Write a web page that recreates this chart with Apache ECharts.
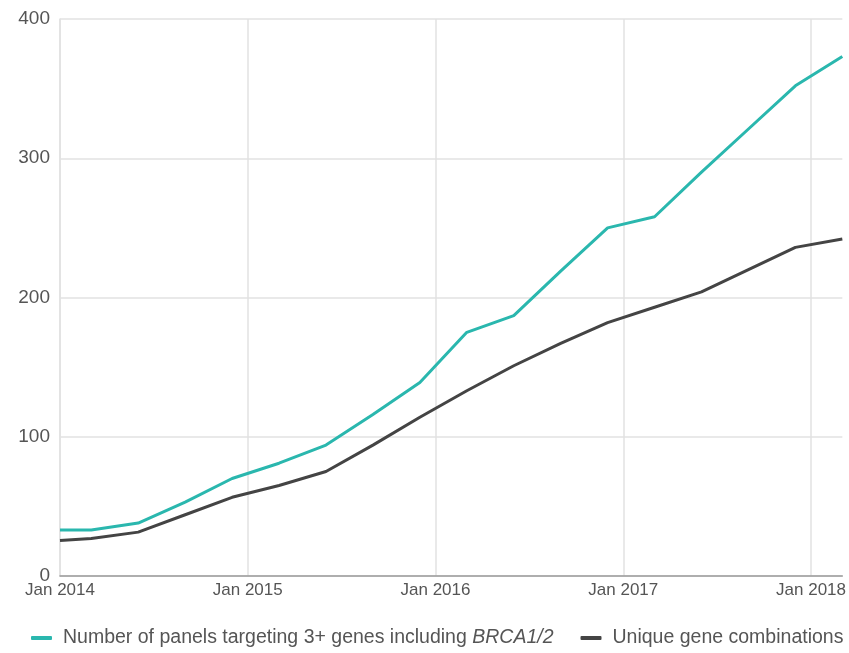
<!DOCTYPE html>
<html>
<head>
<meta charset="utf-8">
<script src="https://cdn.jsdelivr.net/npm/echarts@6/dist/echarts.min.js"></script>
<style>
  html, body { margin: 0; padding: 0; background: #ffffff; }
  #chart { width: 849px; height: 653px; }
</style>
</head>
<body>
<div id="chart"></div>
<script>
// ---- data ----
const dates = [
  '2014-01', '2014-03', '2014-06', '2014-09', '2014-12',
  '2015-03', '2015-06', '2015-09', '2015-12',
  '2016-03', '2016-06', '2016-09', '2016-12',
  '2017-03', '2017-06', '2017-09', '2017-12', '2018-03'
];
const panelsBRCA = [33, 33, 38, 53, 70, 81, 94, 116, 139, 175, 187, 219, 250, 258, 290, 321, 352, 373];
const uniqueCombos = [25.5, 27, 31.5, 44, 56.5, 65, 75, 94, 114, 133, 151, 167, 182, 193, 204, 220, 236, 242];
const tickMonths = [0, 12, 24, 36, 48];
const tickLabels = ['Jan 2014', 'Jan 2015', 'Jan 2016', 'Jan 2017', 'Jan 2018'];
const seriesNames = ['Number of panels targeting 3+ genes including BRCA1/2', 'Unique gene combinations'];

// months since Jan 2014
function monthIndex(s) {
  const [y, m] = s.split('-').map(Number);
  return (y - 2014) * 12 + (m - 1);
}
const xs = dates.map(monthIndex);
const pair = (vals) => xs.map((x, i) => [x, vals[i]]);

const chart = echarts.init(document.getElementById('chart'));
chart.setOption({
  animation: false,
  textStyle: { fontFamily: 'Liberation Sans, Arial, sans-serif' },
  grid: { left: 60, right: 6, top: 19, bottom: 77 },
  legend: {
    left: 31,
    top: 628,
    padding: 0,
    itemWidth: 21,
    itemHeight: 4,
    itemGap: 27,
    icon: 'roundRect',
    data: seriesNames,
    formatter: function (name) {
      if (name === seriesNames[0]) {
        return '{a|Number of panels targeting 3+ genes including }{b|BRCA1/2}';
      }
      return '{a|' + name + '}';
    },
    textStyle: {
      padding: [0, 0, 0, 6],
      rich: {
        a: { fontSize: 19.5, color: '#555555', fontFamily: 'Liberation Sans, Arial, sans-serif' },
        b: { fontSize: 19.5, color: '#555555', fontStyle: 'italic', fontFamily: 'Liberation Sans, Arial, sans-serif' }
      }
    }
  },
  xAxis: {
    type: 'value',
    min: 0,
    max: monthIndex(dates[dates.length - 1]),
    axisLine: { show: true, lineStyle: { color: '#9a9a9a', width: 1.5 } },
    axisTick: { show: false, customValues: tickMonths },
    splitLine: { show: true, lineStyle: { color: '#e2e2e2', width: 1.5 } },
    axisLabel: {
      customValues: tickMonths,
      color: '#555555',
      fontSize: 17,
      margin: 6,
      formatter: function (v) {
        const i = tickMonths.indexOf(v);
        return i >= 0 ? tickLabels[i] : '';
      }
    }
  },
  yAxis: {
    type: 'value',
    min: 0,
    max: 400,
    interval: 100,
    axisLine: { show: true, lineStyle: { color: '#e2e2e2', width: 1.5 } },
    axisTick: { show: false },
    splitLine: { show: true, lineStyle: { color: '#e2e2e2', width: 1.5 } },
    axisLabel: { color: '#555555', fontSize: 19, margin: 10 }
  },
  series: [
    {
      name: seriesNames[1],
      type: 'line',
      data: pair(uniqueCombos),
      symbol: 'none',
      lineStyle: { color: '#444444', width: 3 },
      itemStyle: { color: '#444444' },
      z: 2
    },
    {
      name: seriesNames[0],
      type: 'line',
      data: pair(panelsBRCA),
      symbol: 'none',
      lineStyle: { color: '#2ab7ae', width: 3 },
      itemStyle: { color: '#2ab7ae' },
      z: 3
    }
  ]
});
</script>
</body>
</html>
